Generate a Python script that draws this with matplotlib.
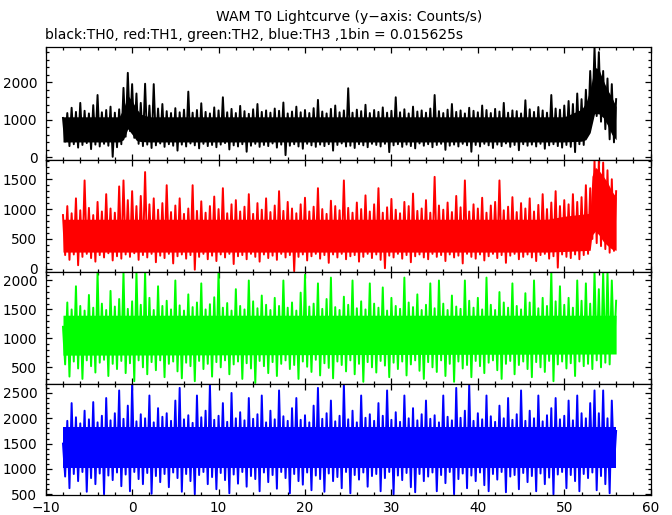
import numpy as np
import matplotlib.pyplot as plt
from matplotlib.ticker import MultipleLocator

plt.rcParams['font.family'] = ['DejaVu Sans']

# sample times (s): local maxima every 0.5 s, local minima half-way between
t_hi = np.linspace(-8.0, 56.0, 129)
t_lo = np.linspace(-7.75, 55.75, 128)

# ---- TH0 (black) ----
core_t0 = [-8, -1.5, -1.0, -0.5, 0.0, 0.5, 1.0, 2.0, 50.0, 51.0, 52.0, 52.5, 53.0, 53.5, 54.0, 54.5, 55.0, 55.5, 56.0]
core_hi0 = [1080, 1080, 1300, 1650, 1500, 1300, 1150, 1080, 1080, 1180, 1280, 1450, 1800, 2400, 2350, 2050, 1800, 1600, 1350]
core_lo0 = [410, 410, 470, 760, 610, 450, 420, 410, 410, 420, 430, 470, 660, 1160, 1160, 1060, 860, 610, 470]
hi0 = [1050, 1180, 1320, 1210, 1450, 1240, 1170, 1390, 1660, 1200, 1260, 1350, 1190, 1280,
       1850, 2250, 1950, 1700, 1450, 1960, 1380, 1950, 1300, 1420,
       1230, 1180, 1310, 1200, 1270, 1750, 1190, 1260, 1440, 1210, 1170, 1330,
       1250, 1600, 1200, 1290, 1180, 1370, 1230, 1160, 1280, 1420, 1210, 1250,
       1190, 1300, 1240, 1460, 1170, 1220, 1350, 1200, 1260, 1180, 1310, 1530,
       1220, 1170, 1290, 1380, 1200, 1250, 1840, 1190, 1270, 1230, 1400, 1180,
       1260, 1210, 1330, 1190, 1240, 1600, 1200, 1280, 1170, 1350, 1220, 1250,
       1190, 1300, 1660, 1230, 1180, 1270, 1420, 1210, 1250, 1170, 1320, 1240,
       1200, 1380, 1260, 1180, 1290, 1220, 1450, 1190, 1250, 1230, 1170, 1520,
       1280, 1210, 1340, 1250, 1190, 1660, 1300, 1270,
       1380, 1500, 1420, 1700, 1550, 1800, 2300, 2930, 2800, 2300, 2100, 1950, 1550]
lo0 = [420, 300, 350, 260, 330, 380, 220, 340, 290, 360, 310, 15, 270, 350,
       550, 700, 520, 360, 300, 340, 250, 320, 370, 280,
       350, 310, 180, 340, 290, 370, 320, 240, 360, 300, 330, 270,
       340, 380, 210, 320, 290, 350, 150, 310, 360, 280, 330, 300,
       370, 260, 340, 60, 310, 350, 290, 230, 360, 320, 280, 340,
       300, 350, 180, 330, 370, 290, 310, 250, 350, 320, 270, 360,
       330, 290, 360, 140, 320, 350, 280, 340, 300, 240, 370, 310,
       350, 270, 330, 360, 200, 310, 340, 290, 360, 320, 150, 330,
       290, 360, 320, 250, 340, 300, 370, 280, 330, 190, 350, 310,
       340, 290, 360, 230, 320, 350, 300, 260,
       330, 280, 140, 350, 330, 600, 1050, 1100, 950, 750, 480, 400]

# ---- TH1 (red) ----
core_t1 = [-8, 48.0, 50.0, 53.0, 53.2, 53.6, 54.0, 54.5, 55.0, 55.5, 56.0]
core_hi1 = [830, 830, 880, 930, 1550, 1700, 1650, 1550, 1450, 1300, 1200]
core_lo1 = [280, 280, 290, 310, 560, 630, 570, 460, 390, 330, 310]
hi1 = [900, 1050, 930, 1180, 980, 1480, 1020, 900, 1120, 960, 1250, 1010, 940, 1380,
       1480, 1150, 1300, 1050, 1220, 1620, 1080, 1180, 990, 1100,
       1400, 950, 1060, 1180, 920, 1010, 1400, 970, 1130, 940, 1050, 1210,
       1000, 1350, 930, 1080, 1150, 960, 1040, 1250, 920, 1100, 990, 1180,
       950, 1060, 1300, 970, 1120, 1010, 930, 1080, 1190, 960, 1040, 1350,
       1000, 920, 1140, 1050, 980, 1480, 1020, 940, 1110, 1000, 1230, 960,
       1080, 1350, 940, 1030, 1170, 990, 930, 1120, 1050, 1260, 970, 1010,
       1150, 940, 1540, 1060, 990, 1110, 950, 1220, 1030, 1480, 960, 1080,
       1010, 1190, 940, 1060, 1120, 1480, 980, 1040, 1200, 950, 1100, 1010,
       1180, 960, 1070, 1250, 1000, 1110, 1300, 1050,
       1150, 1080, 1250, 1120, 1200, 1400, 1350, 1822, 1822, 1780, 1650, 1500, 1300]
lo1 = [230, 150, 240, 60, 200, 250, 180, 120, 230, 190, 260, 140, 210, 170,
       240, 200, 260, 150, 230, 190, 250, 110, 220, 180,
       250, 90, 210, 240, 170, 230, -15, 200, 250, 160, 220, 130,
       240, 190, 250, 80, 210, 230, 160, 250, 200, 120, 240, 180,
       220, 150, 250, 190, 230, -40, 200, 240, 140, 210, 250, 170,
       230, 100, 240, 190, 250, 160, 210, 230, 120, 200, 250, 180,
       240, 150, 10, 220, 190, 250, 170, 230, 110, 210, 240, 190,
       160, 250, 200, 230, 130, 240, 190, 220, 90, 250, 200, 170,
       240, 140, 210, 250, 180, 230, 100, 220, 250, 160, 200, 240,
       190, 130, 230, 250, 170, 210, 20, 240,
       200, 180, 240, 160, 230, 250, 500, 430, 380, 330, 270, 300]

# ---- TH2 (green) ----
core_t2 = [-8, 56.0]
core_hi2 = [1400, 1400]
core_lo2 = [710, 730]
hi2 = [1200, 1620, 1500, 1900, 1560, 1480, 1750, 1530, 2155, 1600, 1490, 1820, 1550, 1680,
       2155, 1510, 1640, 2155, 1580, 2155, 1700, 1490, 1900, 1560,
       1650, 1500, 2000, 1570, 1480, 1760, 1540, 1620, 1950, 1500, 1590, 1710,
       2155, 1530, 1610, 1480, 1850, 1560, 1500, 2000, 1640, 1520, 1740, 1580,
       1490, 1700, 1560, 2000, 1530, 1620, 1480, 1790, 2100, 1550, 1600, 1950,
       1510, 1680, 2050, 1540, 1490, 1720, 1580, 2000, 1520, 1640, 1500, 1950,
       1600, 1530, 1880, 1480, 1700, 1560, 1510, 2050, 1620, 1540, 1760, 1490,
       1580, 1950, 1520, 2000, 1600, 1490, 1740, 1550, 1510, 2000, 1650, 1530,
       1700, 1500, 2050, 1580, 1490, 1800, 1620, 1530, 1950, 1560, 1500, 1780,
       1620, 2000, 1520, 1700, 1560, 2155, 1640, 1900,
       1580, 1700, 1530, 2000, 1650, 1950, 1600, 2155, 1850, 2155, 2155, 2000, 1650]
lo2 = [550, 340, 600, 480, 300, 620, 520, 410, 580, 630, 350, 560, 470, 610,
       400, 570, 260, 620, 500, 380, 590, 450, 620, 330,
       560, 600, 430, 310, 580, 520, 260, 610, 470, 560, 340, 590,
       500, 620, 380, 550, 600, 300, 570, 480, 230, 610, 520, 400,
       590, 350, 560, 620, 470, 540, 300, 600, 510, 420, 630, 360,
       570, 490, 310, 600, 540, 430, 620, 380, 560, 250, 590, 500,
       410, 610, 530, 330, 580, 470, 600, 360, 550, 620, 440, 300,
       590, 500, 420, 620, 350, 560, 250, 600, 480, 540, 330, 610,
       520, 400, 580, 620, 450, 300, 560, 610, 380, 540, 600, 470,
       330, 590, 500, 420, 610, 260, 550, 600,
       480, 570, 350, 600, 520, 560, 470, 620, 500, 580, 550, 780]

# ---- TH3 (blue) ----
core_t3 = [-8, 56.0]
core_hi3 = [1830, 1830]
core_lo3 = [1010, 1010]
hi3 = [1500, 1950, 2300, 2020, 1900, 2150, 1980, 2320, 1920, 2050, 2400, 1960, 2100, 2550,
       1990, 2250, 2677, 1940, 2080, 2000, 2450, 1920, 2200, 2030,
       2100, 1950, 2350, 2600, 1980, 2060, 1910, 2450, 2020, 2150, 2677, 1970,
       2050, 2300, 1930, 2500, 2000, 2120, 1960, 2400, 1990, 2080, 2450, 1920,
       2150, 1980, 2550, 2040, 1950, 2200, 2400, 1970, 2060, 1920, 2250, 2600,
       1990, 2100, 2350, 1940, 2050, 2677, 1980, 2150, 1920, 2450, 2010, 2080,
       1950, 2300, 2050, 2550, 1970, 2120, 1930, 2450, 2000, 2200, 1960, 2080,
       2350, 1990, 2060, 1920, 2450, 2030, 1960, 2600, 2010, 2150, 2677, 1950,
       2100, 1980, 2450, 2040, 1930, 2250, 2000, 2400, 1970, 2080, 2550, 1950,
       2150, 2000, 2450, 1940, 2060, 2200, 2400, 1980,
       2050, 2350, 1960, 2450, 2100, 2000, 2300, 2550, 2100, 2550, 2000, 2350, 1750]
lo3 = [850, 620, 900, 760, 940, 550, 820, 700, 910, 500, 870, 780, 930, 660,
       890, 560, 940, 800, 700, 920, 510, 860, 740, 900,
       640, 930, 820, 550, 900, 760, 500, 880, 940, 700, 840, 600,
       920, 780, 520, 890, 710, 940, 650, 860, 800, 560, 930, 740,
       880, 610, 940, 820, 520, 900, 760, 690, 930, 580, 870, 800,
       550, 910, 760, 840, 620, 940, 520, 880, 790, 930, 650, 860,
       900, 560, 820, 940, 500, 870, 780, 920, 640, 540, 900, 760,
       850, 930, 560, 880, 720, 940, 500, 800, 910, 620, 870, 760,
       930, 680, 560, 900, 790, 940, 540, 850, 880, 600, 920, 740,
       860, 560, 910, 700, 830, 500, 890, 940,
       620, 880, 760, 560, 900, 820, 930, 580, 860, 700, 520, 1050]

colors = ['black', 'red', '#00ff00', 'blue']
ylims = [(-70, 2930), (-45, 1822), (212, 2155), (480, 2677)]
yticks = [[0, 1000, 2000], [0, 500, 1000, 1500], [500, 1000, 1500, 2000],
          [500, 1000, 1500, 2000, 2500]]
yminor = [200, 100, 100, 100]

cores = [(core_t0, core_lo0, core_hi0), (core_t1, core_lo1, core_hi1),
         (core_t2, core_lo2, core_hi2), (core_t3, core_lo3, core_hi3)]
extremes = [(hi0, lo0), (hi1, lo1), (hi2, lo2), (hi3, lo3)]

W, H = 672, 515
fig = plt.figure(figsize=(W / 100, H / 100), dpi=100)
edges = [47.3, 160.0, 271.5, 384.0, 495.3]
left, right = 45.7, 650.7

for k in range(4):
    ax = fig.add_axes([left / W, 1 - edges[k + 1] / H,
                       (right - left) / W, (edges[k + 1] - edges[k]) / H])
    c = colors[k]
    ct, clo, chi = cores[k]
    ax.fill_between(ct, clo, chi, color=c, lw=0)
    hi, lo = extremes[k]
    # trace alternates between the sampled maxima and minima
    tt = np.empty(len(t_hi) + len(t_lo))
    yy = np.empty_like(tt)
    tt[0::2], tt[1::2] = t_hi, t_lo
    yy[0::2], yy[1::2] = hi, lo
    ax.plot(tt, yy, color=c, lw=1.4)
    ax.set_xlim(-10, 60)
    ax.set_ylim(*ylims[k])
    ax.set_yticks(yticks[k])
    ax.xaxis.set_major_locator(MultipleLocator(10))
    ax.xaxis.set_minor_locator(MultipleLocator(2))
    ax.yaxis.set_minor_locator(MultipleLocator(yminor[k]))
    ax.tick_params(which='both', direction='in', top=True, right=True,
                   width=0.9, labelsize=9.8)
    ax.tick_params(which='major', length=4.5)
    ax.tick_params(which='minor', length=2.2)
    ax.tick_params(axis='y', pad=6)
    ax.tick_params(axis='x', pad=4)
    for s in ax.spines.values():
        s.set_linewidth(0.9)
    if k < 3:
        ax.tick_params(axis='x', labelbottom=False)

fig.text(0.519, 1 - 17 / H, 'WAM T0 Lightcurve (y\u2212axis: Counts/s)',
         ha='center', va='center', fontsize=10)
fig.text(left / W - 0.001, 1 - 35 / H,
         'black:TH0, red:TH1, green:TH2, blue:TH3 ,1bin = 0.015625s',
         ha='left', va='center', fontsize=10)

fig.savefig('out.png', dpi=100)
